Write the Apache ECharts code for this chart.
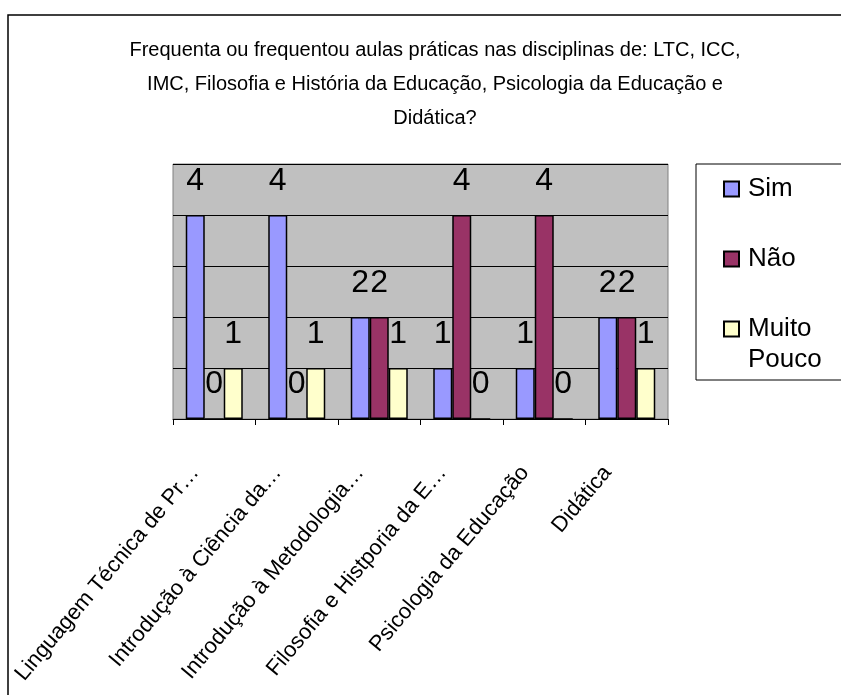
<!DOCTYPE html>
<html><head><meta charset="utf-8">
<script src="https://cdn.jsdelivr.net/npm/echarts@6/dist/echarts.min.js"></script>
<style>html,body{margin:0;padding:0;background:#fff}#c{width:841px;height:695px}</style>
</head><body><div id="c"></div>
<script>
var titleText = "Frequenta ou frequentou aulas práticas nas disciplinas de: LTC, ICC,\nIMC, Filosofia e História da Educação, Psicologia da Educação e\nDidática?";
var categories = ["Linguagem Técnica de Pr…", "Introdução à Ciência da…", "Introdução à Metodologia…", "Filosofia e Histporia da E…", "Psicologia da Educação", "Didática"];
var seriesNames = ["Sim", "Não", "Muito Pouco"];
var simValues = [4, 4, 2, 1, 1, 2];
var naoValues = [0, 0, 2, 4, 4, 2];
var muitoPoucoValues = [1, 1, 1, 0, 0, 1];
var colors = ["#9999FF", "#993366", "#FFFFCC"];
var FONT = "Arial, 'Liberation Sans', sans-serif";

var chart = echarts.init(document.getElementById('c'));
function mk(name, data, color) {
  return {
    name: name, type: 'bar', data: data, barWidth: 19, barGap: '0%',
    itemStyle: { color: color, borderColor: '#000', borderWidth: 1.5 },
    label: { show: true, position: 'top', distance: 18, fontSize: 32, color: '#000', fontFamily: FONT },
    animation: false
  };
}
chart.setOption({
  animation: false,
  backgroundColor: '#fff',
  graphic: [
    { type: 'rect', shape: { x: 8, y: 15, width: 900, height: 800 }, style: { fill: 'none', stroke: '#000', lineWidth: 1.5 }, z: -1 },
    { type: 'text', left: 748, top: 347, z: 100, style: { text: 'Pouco', fontSize: 26, fill: '#000', fontFamily: FONT } }
  ],
  title: { text: titleText, left: 430, textAlign: 'center', top: 28, textStyle: { fontSize: 20, fontWeight: 'normal', color: '#000', lineHeight: 34, fontFamily: FONT } },
  legend: {
    orient: 'vertical', left: 696, top: 164, itemWidth: 15, itemHeight: 15, itemGap: 40, icon: 'rect',
    backgroundColor: '#fff', borderColor: '#000', borderWidth: 1,
    padding: [10, 40, 36, 27],
    data: seriesNames,
    formatter: function (n) { return n === 'Muito Pouco' ? 'Muito' : n; },
    textStyle: { fontSize: 26, color: '#000', fontFamily: FONT, lineHeight: 30, padding: [0, 0, 0, 4] }
  },
  grid: { left: 173, right: 173, top: 164, bottom: 276, show: true, backgroundColor: '#C0C0C0', borderColor: '#808080', borderWidth: 1 },
  xAxis: {
    type: 'category', data: categories,
    axisLine: { lineStyle: { color: '#000', width: 1 } },
    axisTick: { show: true, length: 6, lineStyle: { color: '#000' } },
    axisLabel: { rotate: 50, margin: 27, fontSize: 22, color: '#000', fontFamily: FONT, padding: [0, 30, 0, 0], interval: 0 }
  },
  yAxis: {
    type: 'value', min: 0, max: 5, interval: 1,
    axisLabel: { show: false }, axisLine: { show: false }, axisTick: { show: false },
    splitLine: { lineStyle: { color: '#000', width: 1 } }
  },
  series: [mk(seriesNames[0], simValues, colors[0]), mk(seriesNames[1], naoValues, colors[1]), mk(seriesNames[2], muitoPoucoValues, colors[2])]
});
</script></body></html>
